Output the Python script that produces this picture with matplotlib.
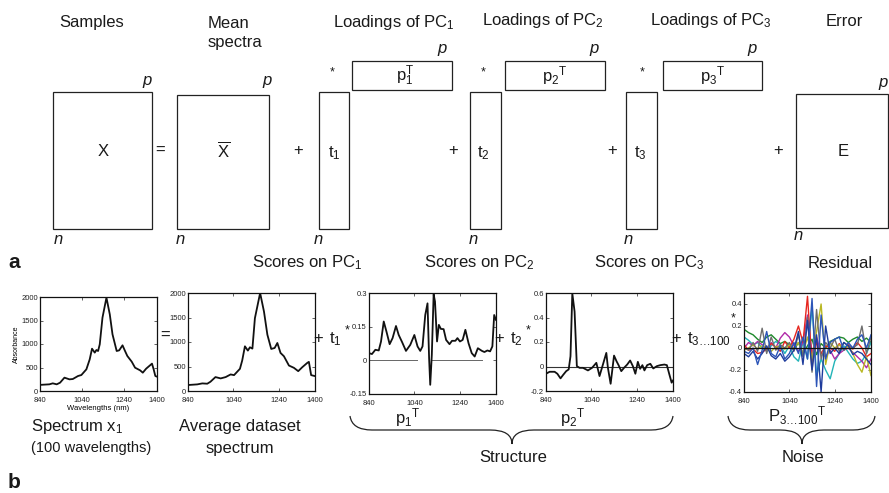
import matplotlib
matplotlib.use("Agg")
import matplotlib.pyplot as plt
from matplotlib.patches import Rectangle, PathPatch
from matplotlib.path import Path

plt.rcParams['font.family'] = 'Liberation Sans'
plt.rcParams['mathtext.fontset'] = 'custom'
plt.rcParams['mathtext.rm'] = 'Liberation Sans'
plt.rcParams['mathtext.it'] = 'Liberation Sans:italic'
plt.rcParams['axes.unicode_minus'] = False

# spectrum of sample 1
x1_wl = [840, 885, 901, 920, 936, 957, 981, 997, 1022, 1038, 1062, 1078, 1089, 1102,
         1110, 1118, 1126, 1139, 1158, 1174, 1187, 1207, 1219, 1235, 1247, 1258, 1279,
         1295, 1319, 1332, 1348, 1376, 1384, 1392, 1400]
x1_abs = [130, 142, 163, 142, 177, 284, 248, 255, 319, 340, 461, 674, 900, 816,
          872, 851, 993, 1560, 1986, 1631, 1206, 851, 865, 972, 851, 745, 624,
          496, 440, 390, 475, 582, 461, 319, 305]

# mean spectrum of the data set
mean_wl = [840, 881, 903, 925, 939, 961, 984, 1006, 1028, 1043, 1069, 1079, 1091, 1104,
           1113, 1124, 1135, 1158, 1175, 1190, 1207, 1222, 1234, 1248, 1263, 1285, 1307,
           1326, 1344, 1366, 1373, 1383, 1400]
mean_abs = [122, 135, 155, 149, 189, 284, 257, 284, 338, 324, 453, 622, 912, 824,
            892, 865, 1486, 2000, 1622, 1149, 858, 878, 980, 777, 709, 520, 473,
            405, 486, 574, 595, 324, 304]

# loadings of PC1
p1_wl = [840, 853, 868, 883, 893, 905, 917, 931, 944, 959, 971, 986, 1003, 1022, 1040,
         1054, 1066, 1076, 1088, 1098, 1105, 1110, 1117, 1125, 1131, 1140, 1148, 1157,
         1169, 1180, 1195, 1206, 1221, 1230, 1241, 1253, 1265, 1279, 1293, 1306, 1320,
         1338, 1349, 1362, 1374, 1384, 1392, 1400]
p1_load = [0.032, 0.028, 0.047, 0.044, 0.084, 0.173, 0.128, 0.072, 0.099, 0.153, 0.113,
           0.081, 0.042, 0.069, 0.113, 0.062, 0.042, 0.062, 0.202, 0.254, 0.010, -0.109,
           0.025, 0.294, 0.262, 0.084, 0.158, 0.140, 0.139, 0.091, 0.072, 0.087, 0.087,
           0.099, 0.084, 0.091, 0.136, 0.076, 0.032, 0.017, 0.054, 0.042, 0.037, 0.044,
           0.040, 0.062, 0.202, 0.180]
p1_zero = [(840, 1052), (1118, 1338)]

# loadings of PC2
p2_wl = [840, 856, 878, 890, 904, 915, 929, 940, 948, 956, 966, 976, 988, 1003, 1025,
         1043, 1062, 1076, 1091, 1106, 1113, 1125, 1140, 1151, 1160, 1172, 1184, 1198,
         1211, 1223, 1234, 1245, 1255, 1265, 1274, 1286, 1300, 1313, 1329, 1344, 1362,
         1373, 1384, 1394, 1400]
p2_load = [-0.059, -0.043, -0.043, -0.059, -0.097, -0.070, -0.038, -0.024, 0.084, 0.597,
           0.449, 0.003, -0.011, -0.011, -0.032, -0.011, 0.030, -0.078, 0.016, 0.111,
           -0.011, -0.141, 0.089, 0.043, 0.011, -0.038, -0.011, 0.016, 0.049, 0.003,
           -0.059, 0.038, -0.019, 0.011, -0.032, 0.011, 0.022, -0.016, 0.003, 0.011,
           0.016, 0.011, -0.065, -0.132, -0.114]

# loadings of PC3..PC100 (a few shown)
noise_wl = [840, 860, 880, 900, 920, 940, 960, 980, 1000, 1020, 1040, 1060, 1080, 1100,
            1120, 1140, 1160, 1180, 1200, 1220, 1240, 1260, 1280, 1300, 1320, 1340, 1360,
            1380, 1400]
noise_green = [0.17, 0.14, 0.12, 0.08, 0.05, 0.10, 0.12, 0.08, 0.04, 0.06, 0.03, -0.02,
               0.05, -0.05, 0.02, 0.08, -0.06, 0.04, 0.00, 0.06, 0.08, 0.10, 0.09, 0.05,
               0.08, 0.10, 0.06, 0.09, 0.05]
noise_cyan = [0.10, 0.07, 0.03, 0.05, 0.00, -0.03, 0.02, 0.06, 0.03, -0.05, 0.02, -0.08,
              -0.12, 0.05, -0.10, 0.38, -0.25, -0.10, -0.20, -0.28, -0.12, -0.05, 0.02,
              -0.04, -0.10, -0.14, -0.12, -0.05, 0.05]
noise_red = [0.03, -0.02, -0.01, -0.05, -0.04, -0.01, 0.04, 0.01, -0.03, 0.06, 0.00, 0.08,
             0.20, 0.05, 0.47, -0.15, 0.05, -0.05, 0.02, 0.00, -0.03, 0.04, -0.02, 0.03,
             -0.01, 0.05, 0.00, -0.08, -0.05]
noise_magenta = [0.00, 0.05, 0.02, 0.06, 0.03, -0.02, 0.05, 0.00, 0.09, 0.14, 0.10, 0.02,
                 -0.03, 0.05, 0.30, -0.05, 0.10, -0.05, -0.08, -0.02, -0.10, -0.05, -0.02,
                 0.00, -0.04, -0.08, -0.12, -0.18, -0.10]
noise_yellow = [-0.02, 0.00, 0.03, -0.01, 0.02, 0.00, -0.03, 0.01, 0.02, -0.01, 0.03, 0.00,
                0.05, -0.05, 0.10, -0.10, 0.15, 0.40, -0.15, 0.05, 0.00, 0.03, -0.02, 0.02,
                -0.05, -0.15, -0.22, -0.08, -0.25]
noise_gray = [0.00, -0.02, 0.05, -0.03, 0.18, -0.05, 0.10, -0.02, 0.03, 0.00, 0.05, -0.03,
              0.12, -0.08, 0.28, -0.22, 0.35, -0.10, 0.05, 0.00, 0.08, -0.03, 0.05, 0.02,
              0.00, 0.03, 0.20, -0.05, 0.10]
noise_blue = [-0.03, -0.05, 0.00, -0.15, -0.02, 0.15, -0.05, -0.08, 0.02, -0.10, -0.05, 0.05,
              -0.05, 0.10, -0.10, 0.45, -0.35, 0.30, -0.10, 0.05, 0.08, 0.10, -0.02, 0.05,
              0.00, 0.08, 0.12, 0.00, 0.12]
noise_navy = [-0.05, -0.08, -0.03, -0.10, -0.05, 0.02, -0.07, -0.10, -0.05, -0.12, -0.08,
              -0.02, 0.15, -0.15, 0.25, -0.20, 0.12, -0.40, 0.20, -0.05, 0.00, -0.05, 0.05,
              0.02, -0.06, -0.03, -0.05, -0.10, -0.15]
noise_series = [(noise_green, '#1e8a2c'), (noise_cyan, '#22b4b8'), (noise_magenta, '#b02aa8'),
                (noise_red, '#e6261f'), (noise_yellow, '#b9b824'), (noise_gray, '#6e6e6e'),
                (noise_navy, '#1f3c9c'), (noise_blue, '#2c55b8')]

wl_ticks = [840, 1040, 1240, 1400]

W, H = 889, 493
fig = plt.figure(figsize=(W / 100, H / 100), dpi=100)
canvas = fig.add_axes([0, 0, 1, 1])
canvas.set_xlim(0, W)
canvas.set_ylim(H, 0)
canvas.axis('off')

BIG = 12
EC = '#222222'


def box(x0, y0, x1, y1):
    canvas.add_patch(Rectangle((x0, y0), x1 - x0, y1 - y0, fill=False, ec=EC, lw=0.9))


def txt(x, y, s, size=BIG, ha='center', va='center', **kw):
    canvas.text(x, y, s, fontsize=size, ha=ha, va=va, color='#1a1a1a', **kw)


def brace(x0, xm, x1, y0, y1, y2, r=22):
    verts = [(x0, y0), (x0 + 2, y1), (x0 + r, y1), (xm - r, y1), (xm, y1), (xm, y2),
             (xm, y1), (xm + r, y1), (x1 - r, y1), (x1 - 2, y1), (x1, y0)]
    codes = [Path.MOVETO, Path.CURVE3, Path.CURVE3, Path.LINETO, Path.CURVE3, Path.CURVE3,
             Path.CURVE3, Path.CURVE3, Path.LINETO, Path.CURVE3, Path.CURVE3]
    canvas.add_patch(PathPatch(Path(verts, codes), fill=False, ec=EC, lw=0.9))


# ---- panel a: matrix decomposition ----
txt(92, 22, 'Samples')
txt(208, 33, 'Mean\nspectra', ha='left', linespacing=1.25)
txt(333, 22, 'Loadings of PC$_1$', ha='left')
txt(482, 21, 'Loadings of PC$_2$', ha='left')
txt(650, 21, 'Loadings of PC$_3$', ha='left')
txt(844, 21, 'Error')

box(53, 92, 152, 229)
box(177, 95, 269, 229)
box(319, 92, 349, 229)
box(352, 61, 452, 90)
box(470, 92, 501, 229)
box(505, 61, 605, 90)
box(626, 92, 657, 229)
box(663, 61, 762, 90)
box(796, 94, 888, 228)

txt(103, 152, 'X')
txt(160, 150, '=')
txt(224, 150, r'$\overline{\mathrm{X}}$')
txt(298, 150, '+')
txt(334, 153, 't$_1$')
txt(405, 76, r'p$_1^{\mathrm{T}}$')
txt(453, 150, '+')
txt(483, 153, 't$_2$')
txt(555, 76, r'p$_2$$^{\mathrm{T}}$')
txt(612, 150, '+')
txt(640, 153, 't$_3$')
txt(713, 76, r'p$_3$$^{\mathrm{T}}$')
txt(778, 150, '+')
txt(843, 152, 'E')

for sx in (332, 483, 642):
    txt(sx, 72, '*', size=9)
for px, py in ((147, 80), (267, 80), (442, 48), (594, 48), (752, 48), (883, 82)):
    txt(px, py, 'p', style='italic')
for nx, ny in ((58, 240), (180, 240), (318, 240), (473, 240), (628, 240), (798, 236)):
    txt(nx, ny, 'n', style='italic')

txt(14, 262, 'a', size=15, weight='bold')
txt(307, 263, 'Scores on PC$_1$')
txt(479, 263, 'Scores on PC$_2$')
txt(649, 263, 'Scores on PC$_3$')
txt(840, 263, 'Residual')

# ---- panel b: spectra ----


def spec_axes(x0, y0, x1, y1, ylim, yticks, ylabels):
    ax = fig.add_axes([x0 / W, 1 - y1 / H, (x1 - x0) / W, (y1 - y0) / H])
    ax.set_xlim(840, 1400)
    ax.set_ylim(*ylim)
    ax.set_xticks(wl_ticks)
    ax.set_xticklabels([str(t) for t in wl_ticks])
    ax.set_yticks(yticks)
    ax.set_yticklabels(ylabels)
    ax.tick_params(direction='in', top=True, right=True, length=2, width=0.5,
                   labelsize=5.5, pad=1.5, colors='#222222')
    ax.tick_params(axis='x', pad=4)
    for s in ax.spines.values():
        s.set_linewidth(0.9)
        s.set_color('#111111')
    ax.patch.set_alpha(0)
    return ax


ax1 = spec_axes(40, 297, 157, 391, (0, 2000), [0, 500, 1000, 1500, 2000],
                ['0', '500', '1000', '1500', '2000'])
ax1.plot(x1_wl, x1_abs, color='#111111', lw=1.3)
ax1.set_xlabel('Wavelengths (nm)', fontsize=5.5, labelpad=1)
ax1.set_ylabel('Absorbance', fontsize=5, labelpad=1)

ax2 = spec_axes(188, 293, 315, 391, (0, 2000), [0, 500, 1000, 1500, 2000],
                ['0', '500', '1000', '1500', '2000'])
ax2.plot(mean_wl, mean_abs, color='#111111', lw=1.3)

ax3 = spec_axes(369, 293, 496, 394, (-0.15, 0.3), [-0.15, 0, 0.15, 0.3],
                ['-0.15', '0', '0.15', '0.3'])
for a, b in p1_zero:
    ax3.plot([a, b], [0, 0], color='#666666', lw=0.7)
ax3.plot(p1_wl, p1_load, color='#111111', lw=1.3)

ax4 = spec_axes(546, 293, 673, 391, (-0.2, 0.6), [-0.2, 0, 0.2, 0.4, 0.6],
                ['-0.2', '0', '0.2', '0.4', '0.6'])
ax4.axhline(0, color='#333333', lw=0.8)
ax4.plot(p2_wl, p2_load, color='#111111', lw=1.3)

ax5 = spec_axes(744, 293, 871, 392, (-0.4, 0.5), [-0.4, -0.2, 0, 0.2, 0.4],
                ['-0.4', '-0.2', '0', '0.2', '0.4'])
for vals, col in noise_series:
    ax5.plot(noise_wl, vals, color=col, lw=1.0)
ax5.axhline(0, color='#111111', lw=0.9)

txt(165, 335, '=')
txt(318, 338, '+')
txt(335, 339, 't$_1$')
txt(347, 330, '*', size=9)
txt(499, 338, '+')
txt(516, 339, 't$_2$')
txt(528, 330, '*', size=9)
txt(676, 338, '+')
txt(687, 339, 't$_{3\\ldots100}$', ha='left')
txt(733, 318, '*', size=9)

txt(408, 418, r'p$_1$$^{\mathrm{T}}$')
txt(573, 418, r'p$_2$$^{\mathrm{T}}$')
txt(797, 416, r'P$_{3\ldots100}$$^{\mathrm{T}}$')

brace(350, 512, 673, 416, 430, 444)
brace(728, 802, 875, 416, 430, 444)
txt(513, 458, 'Structure')
txt(803, 458, 'Noise')

txt(31, 427, 'Spectrum x$_1$', ha='left')
txt(31, 448, '(100 wavelengths)', size=10.5, ha='left')
txt(240, 427, 'Average dataset')
txt(240, 448, 'spectrum')
txt(14, 482, 'b', size=15, weight='bold')

fig.savefig('out.png', dpi=100)
